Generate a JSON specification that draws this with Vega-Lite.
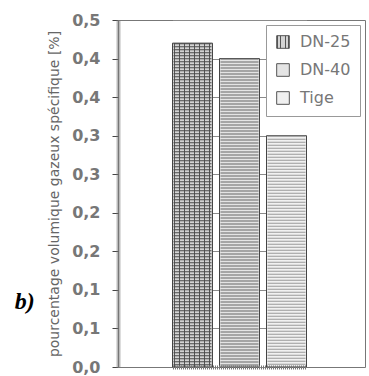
{
  "$schema": "https://vega.github.io/schema/vega-lite/v6.json",
  "width": 247,
  "height": 347,
  "autosize": "none",
  "padding": {"left": 118, "top": 20, "right": 4, "bottom": 9},
  "background": "white",
  "config": {"font": "DejaVu Sans", "view": {"stroke": "#777", "strokeWidth": 1}},
  "title": {
    "text": "b)",
    "orient": "left",
    "anchor": "start",
    "angle": 0,
    "align": "right",
    "baseline": "middle",
    "dy": -84,
    "offset": -7,
    "font": "Liberation Serif",
    "fontSize": 24,
    "fontStyle": "italic",
    "fontWeight": "bold",
    "color": "black"
  },
  "data": {
    "values": [
      {"type": "DN-25", "value": 0.42},
      {"type": "DN-40", "value": 0.40},
      {"type": "Tige", "value": 0.30}
    ]
  },
  "encoding": {
    "x": {
      "field": "type",
      "type": "nominal",
      "sort": null,
      "scale": {"range": [54.5, 188.5], "paddingInner": 0.149, "paddingOuter": 0},
      "axis": {
        "title": null,
        "labels": false,
        "ticks": false,
        "grid": false,
        "domainColor": "#777",
        "domainWidth": 4,
        "domainDash": [1, 1],
        "zindex": 1
      }
    },
    "y": {
      "field": "value",
      "type": "quantitative",
      "scale": {"domain": [0, 0.45], "nice": false, "zero": true},
      "axis": {
        "title": "pourcentage volumique gazeux spécifique [%]",
        "values": [0, 0.05, 0.1, 0.15, 0.2, 0.25, 0.3, 0.35, 0.4, 0.45],
        "labelExpr": "replace(format(datum.value + 1e-9, '.1f'), '.', ',')",
        "labelFontSize": 16,
        "labelFontWeight": "bold",
        "labelColor": "#777",
        "labelPadding": 12,
        "tickSize": 6,
        "tickColor": "#444",
        "domainColor": "#777",
        "domainWidth": 4,
        "domainDash": [1, 1],
        "grid": true,
        "gridColor": "#8a8a8a",
        "gridWidth": 1,
        "titleFontSize": 14,
        "titleColor": "#666",
        "titleFontWeight": "normal",
        "titlePadding": 10
      }
    }
  },
  "layer": [
    {
      "mark": {"type": "bar", "stroke": "#444", "strokeWidth": 1},
      "encoding": {
        "fill": {
          "field": "type",
          "type": "nominal",
          "sort": null,
          "scale": {
            "range": [
              {"expr": "{gradient:'linear',x1:0,y1:0,x2:1,y2:0,stops:[{offset:0,color:'#d4d4d4'},{offset:0.05,color:'#d4d4d4'},{offset:0.05,color:'#555'},{offset:0.075,color:'#555'},{offset:0.075,color:'#d4d4d4'},{offset:0.175,color:'#d4d4d4'},{offset:0.175,color:'#555'},{offset:0.2,color:'#555'},{offset:0.2,color:'#d4d4d4'},{offset:0.3,color:'#d4d4d4'},{offset:0.3,color:'#555'},{offset:0.325,color:'#555'},{offset:0.325,color:'#d4d4d4'},{offset:0.425,color:'#d4d4d4'},{offset:0.425,color:'#555'},{offset:0.45,color:'#555'},{offset:0.45,color:'#d4d4d4'},{offset:0.55,color:'#d4d4d4'},{offset:0.55,color:'#555'},{offset:0.575,color:'#555'},{offset:0.575,color:'#d4d4d4'},{offset:0.675,color:'#d4d4d4'},{offset:0.675,color:'#555'},{offset:0.7,color:'#555'},{offset:0.7,color:'#d4d4d4'},{offset:0.8,color:'#d4d4d4'},{offset:0.8,color:'#555'},{offset:0.825,color:'#555'},{offset:0.825,color:'#d4d4d4'},{offset:0.925,color:'#d4d4d4'},{offset:0.925,color:'#555'},{offset:0.95,color:'#555'},{offset:0.95,color:'#d4d4d4'},{offset:1,color:'#d4d4d4'}]}"},
              "#e4e4e4",
              "#f0f0f0"
            ]
          },
          "legend": {
            "title": null,
            "orient": "top-right",
            "offset": 5,
            "padding": 9,
            "strokeColor": "#999",
            "fillColor": "white",
            "symbolType": "square",
            "symbolSize": 160,
            "symbolStrokeColor": "#555",
            "symbolStrokeWidth": 1,
            "labelFontSize": 16,
            "labelColor": "#777",
            "labelOffset": 9,
            "rowPadding": 10,
            "labelFont": "DejaVu Sans"
          }
        }
      }
    },
    {
      "mark": {"type": "rule", "strokeWidth": 38, "strokeDash": [1, 2], "strokeCap": "butt"},
      "encoding": {
        "y2": {"datum": 0},
        "stroke": {
          "field": "type",
          "type": "nominal",
          "sort": null,
          "scale": {"range": ["#4a4a4a", "#666", "#999"]},
          "legend": null
        }
      }
    }
  ]
}
